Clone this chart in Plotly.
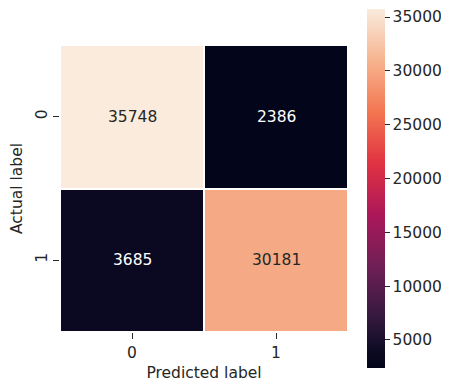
import plotly.graph_objects as go

x_labels = ["0", "1"]
y_labels = ["0", "1"]
counts = [[35748, 2386],
          [3685, 30181]]
tick_vals = [5000, 10000, 15000, 20000, 25000, 30000, 35000]

rocket = [
    [0.0, "#03051a"],
    [0.04, "#0b0921"],
    [0.08, "#1a102d"],
    [1/7, "#35193e"],
    [2/7, "#701f57"],
    [3/7, "#ad1759"],
    [4/7, "#e13342"],
    [5/7, "#f37651"],
    [6/7, "#f6b48f"],
    [1.0, "#faebdd"],
]

zmin = min(min(r) for r in counts)
zmax = max(max(r) for r in counts)

fig = go.Figure(go.Heatmap(
    z=counts, x=x_labels, y=y_labels,
    colorscale=rocket, zmin=zmin, zmax=zmax,
    xgap=2, ygap=2,
    colorbar=dict(
        thickness=18, lenmode="pixels", len=359,
        x=1.066, xanchor="left", xpad=0, y=0.5, yanchor="middle", ypad=0,
        outlinewidth=0, ticks="outside", ticklen=5, tickcolor="#262626",
        tickvals=tick_vals, tickformat="d",
        tickfont=dict(size=15.5, color="#262626"),
    ),
    hoverinfo="skip",
))

annotations = []
for i, yl in enumerate(y_labels):
    for j, xl in enumerate(x_labels):
        v = counts[i][j]
        frac = (v - zmin) / (zmax - zmin)
        annotations.append(dict(
            x=xl, y=yl, text=str(v), showarrow=False,
            font=dict(size=15.5, color="#262626" if frac > 0.5 else "white"),
        ))

fig.update_layout(
    width=441, height=380,
    margin=dict(l=52, r=101, t=37, b=56, autoexpand=False),
    paper_bgcolor="white", plot_bgcolor="white",
    font=dict(family="DejaVu Sans", size=15.5, color="#262626"),
    annotations=annotations,
    xaxis=dict(title=dict(text="Predicted label", font=dict(size=15.5), standoff=6),
               ticks="outside", ticklen=6, tickcolor="#262626",
               tickfont=dict(size=15.5),
               showgrid=False, zeroline=False, showline=False),
    yaxis=dict(title=dict(text="Actual label", font=dict(size=15.5), standoff=6),
               autorange="reversed", tickangle=-90,
               ticks="outside", ticklen=6, tickcolor="#262626",
               tickfont=dict(size=15.5),
               showgrid=False, zeroline=False, showline=False),
)

fig.write_html("out.html")
